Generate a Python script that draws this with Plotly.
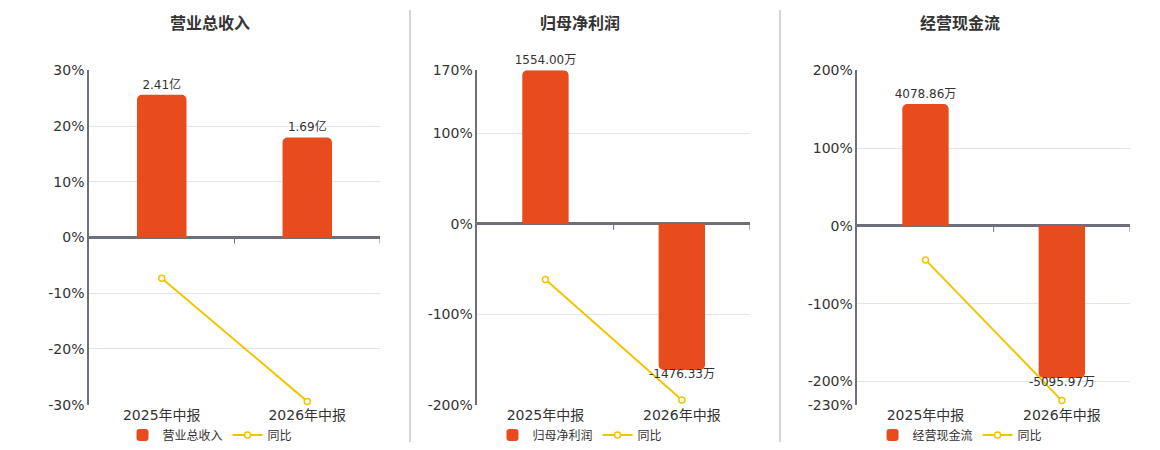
import plotly.graph_objects as go

categories = ["2025年中报", "2026年中报"]

# panel titles / bar series names
titles = ["营业总收入", "归母净利润", "经营现金流"]

# bar amounts (亿 for revenue, 万 for the other two)
revenue = [2.41, 1.69]
net_profit = [1554.00, -1476.33]
cash_flow = [4078.86, -5095.97]
bar_labels = [
    ["2.41亿", "1.69亿"],
    ["1554.00万", "-1476.33万"],
    ["4078.86万", "-5095.97万"],
]

# year-on-year change (%)
revenue_yoy = [-7.3, -29.4]
net_profit_yoy = [-61.6, -194.7]
cash_flow_yoy = [-43.8, -224.7]

# left axis settings
pct_ranges = [[-30, 30], [-200, 170], [-230, 200]]
pct_ticks = [
    [30, 20, 10, 0, -10, -20, -30],
    [170, 100, 0, -100, -200],
    [200, 100, 0, -100, -200, -230],
]
# bar axis scale: bar units per 1% on the left axis
bar_scale = [2.41 / 25.6, 1554.00 / 170, 4078.86 / 156.6]

BAR = "#E84C1D"
LINE = "#F2C500"
FONT = "DejaVu Sans, Noto Sans CJK SC, sans-serif"

bars = [revenue, net_profit, cash_flow]
yoys = [revenue_yoy, net_profit_yoy, cash_flow_yoy]

# page body has an 8px margin, so the figure is 16px smaller than the window
W, H = 1144, 434
x_domains = [[0.0708, 0.3252], [0.4102, 0.6486], [0.7424, 0.9808]]
y_domain = [0.0859, 0.8565]
centers = [0.1766, 0.5, 0.8322]

fig = go.Figure()
layout = {}
shapes = []
annotations = []

for i in range(3):
    n = i + 1
    xa = "x" if n == 1 else f"x{n}"
    ya = "y" if i == 0 else f"y{2 * i + 1}"
    yb = f"y{2 * i + 2}"
    xkey = "xaxis" if n == 1 else f"xaxis{n}"
    ykey = "yaxis" if i == 0 else f"yaxis{2 * i + 1}"
    y2key = f"yaxis{2 * i + 2}"
    leg = "legend" if n == 1 else f"legend{n}"

    # positive bars keep their label on top, negative ones get an annotation
    positions = ["outside" if v >= 0 else "none" for v in bars[i]]

    fig.add_trace(go.Bar(
        x=categories, y=bars[i], name=titles[i],
        xaxis=xa, yaxis=yb,
        marker=dict(color=BAR, line=dict(width=0)),
        width=0.34,
        text=bar_labels[i], textposition=positions,
        textfont=dict(size=12, color="#333", family=FONT),
        constraintext="none", cliponaxis=False,
        legend=leg,
    ))
    fig.add_trace(go.Scatter(
        x=categories, y=yoys[i], name="同比",
        xaxis=xa, yaxis=ya, mode="lines+markers",
        line=dict(color=LINE, width=2),
        marker=dict(size=6, color="white", line=dict(color=LINE, width=1.5)),
        cliponaxis=False,
        legend=leg,
    ))

    for cat, v, lab in zip(categories, bars[i], bar_labels[i]):
        if v < 0:
            annotations.append(dict(
                x=cat, y=v, xref=xa, yref=yb, text=lab, showarrow=False,
                yanchor="middle", yshift=-4,
                font=dict(size=12, color="#333", family=FONT),
            ))

    lo, hi = pct_ranges[i]
    layout[xkey] = dict(
        domain=x_domains[i], anchor=ya, type="category",
        range=[-0.5, 1.5], showgrid=False, showline=False, ticks="",
        tickfont=dict(size=14, color="#333", family=FONT),
    )
    layout[ykey] = dict(
        domain=y_domain, anchor=xa, range=[lo, hi],
        tickvals=pct_ticks[i], ticktext=[f"{v}%" for v in pct_ticks[i]],
        tickfont=dict(size=14, color="#333", family=FONT),
        showgrid=True, gridcolor="#E0E6F1", gridwidth=1,
        showline=True, linecolor="#6E7079", linewidth=1.5,
        zeroline=True, zerolinecolor="#6E7079", zerolinewidth=2.5,
        ticks="",
    )
    layout[y2key] = dict(
        overlaying=ya, anchor=xa,
        range=[lo * bar_scale[i], hi * bar_scale[i]],
        visible=False, showgrid=False, zeroline=False,
    )
    layout[leg] = dict(
        orientation="h", x=centers[i], y=0.016,
        xanchor="center", yanchor="middle",
        font=dict(size=12, color="#333", family=FONT),
        bgcolor="rgba(0,0,0,0)",
    )

    # small ticks under the zero line at category boundaries
    for b in [0.5, 1.5]:
        shapes.append(dict(
            type="line", xref=xa, yref=ya, x0=b, x1=b,
            ysizemode="pixel", yanchor=0, y0=0, y1=-6,
            line=dict(color="#6E7079", width=1),
        ))

    annotations.append(dict(
        text=f"<b>{titles[i]}</b>", x=centers[i], y=0.9654,
        xref="paper", yref="paper", showarrow=False,
        xanchor="center", yanchor="middle",
        font=dict(size=16, color="#333", family=FONT),
    ))

# vertical dividers between panels
for xd in [0.3514, 0.6748]:
    shapes.append(dict(
        type="line", xref="paper", yref="paper", x0=xd, x1=xd,
        y0=-0.002, y1=0.995, line=dict(color="#AAAAAA", width=1),
    ))

fig.update_layout(
    **layout,
    width=W, height=H,
    margin=dict(l=0, r=0, t=0, b=0, autoexpand=False),
    paper_bgcolor="white", plot_bgcolor="white",
    barmode="group", barcornerradius=5,
    shapes=shapes, annotations=annotations,
    font=dict(family=FONT, color="#333"),
)

fig.write_html("out.html")
